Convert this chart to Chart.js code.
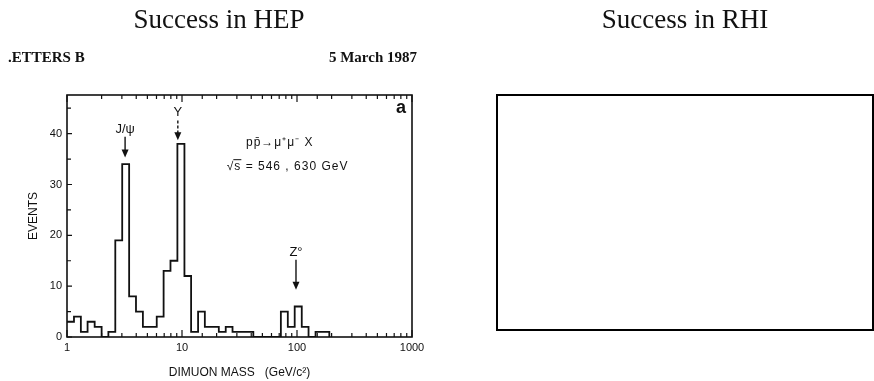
<!DOCTYPE html>
<html>
<head>
<meta charset="utf-8">
<title>Success in HEP / Success in RHI</title>
<script src="https://cdn.jsdelivr.net/npm/chart.js@4.4.1/dist/chart.umd.min.js"></script>
<style>
  html, body { margin: 0; padding: 0; background: #fff; }
  #wrap { position: relative; width: 874px; height: 381px; overflow: hidden; }
  canvas { position: absolute; top: 0; }
  #hepChart { left: 0; }
  #rhiChart { left: 440px; }
</style>
</head>
<body>
<div id="wrap">
  <canvas id="hepChart" width="440" height="381"></canvas>
  <canvas id="rhiChart" width="434" height="381"></canvas>
</div>
<script>
// Global font settings
Chart.defaults.font.family = "'Liberation Sans', Arial, sans-serif";
Chart.defaults.color = '#111';

const INK = '#111';
const SERIF = "'Liberation Serif', 'DejaVu Serif', serif";

// Dimuon mass histogram:
// lower bin edges (GeV/c^2) and events per bin
const binEdges = [1.00, 1.15, 1.32, 1.51, 1.74, 2.00, 2.29, 2.63, 3.02, 3.47,
                  3.98, 4.57, 5.25, 6.03, 6.92, 7.94, 9.12, 10.5, 12.0, 13.8,
                  15.8, 18.2, 20.9, 24.0, 27.5, 31.6, 36.3, 41.7, 47.9, 55.0,
                  63.1, 72.4, 83.2, 95.5, 110, 126, 145, 166, 191];
const binCounts = [3, 4, 1, 3, 2, 0, 1, 19, 34, 8,
                   5, 2, 2, 4, 13, 15, 38, 12, 1, 5,
                   2, 2, 1, 2, 1, 1, 1, 0, 0, 0,
                   0, 5, 2, 6, 2, 0, 1, 1];
const xTickLabels = [1, 10, 100, 1000];
const yTickLabels = [0, 10, 20, 30, 40];

// Resonance arrows: name, mass pointed at, arrow start and tip (in events)
const peakNames = ['J/ψ', 'Υ', 'Z°'];
const peakMasses = [3.2, 9.2, 98];
const arrowTops = [39.4, 42.6, 15.2];
const arrowTips = [35.3, 38.7, 9.3];

// Step points: each bin's lower edge with its count, closed at the last edge
const histPoints = binEdges.map((edge, i) => ({ x: edge, y: i < binCounts.length ? binCounts[i] : 0 }));

function drawArrow(ctx, x, yFrom, yTo, dashed) {
    ctx.beginPath();
    if (dashed) ctx.setLineDash([3, 2]);
    ctx.moveTo(x, yFrom);
    ctx.lineTo(x, yTo - 6);
    ctx.stroke();
    ctx.setLineDash([]);
    ctx.beginPath();
    ctx.moveTo(x - 3.5, yTo - 8);
    ctx.lineTo(x + 3.5, yTo - 8);
    ctx.lineTo(x, yTo);
    ctx.closePath();
    ctx.fill();
}

// Frame, inward ticks, header line and labels of the scanned page
const scanDecor = {
    id: 'scanDecor',
    afterDraw(chart) {
        const { ctx, chartArea: a, scales: { x, y } } = chart;
        ctx.save();
        ctx.strokeStyle = INK;
        ctx.fillStyle = INK;
        ctx.lineWidth = 1.6;
        ctx.strokeRect(a.left, a.top, a.right - a.left, a.bottom - a.top);

        ctx.lineWidth = 1.2;
        ctx.beginPath();
        for (const t of x.ticks) {
            const px = x.getPixelForValue(t.value);
            const len = xTickLabels.includes(t.value) ? 7 : 4;
            ctx.moveTo(px, a.bottom); ctx.lineTo(px, a.bottom - len);
            ctx.moveTo(px, a.top); ctx.lineTo(px, a.top + len);
        }
        for (const t of y.ticks) {
            if (t.value % 5 !== 0) continue;
            const py = y.getPixelForValue(t.value);
            const len = t.value % 10 === 0 ? 5 : 4;
            ctx.moveTo(a.left, py); ctx.lineTo(a.left + len, py);
        }
        ctx.stroke();

        // resonance arrows and names
        ctx.lineWidth = 1.4;
        ctx.font = '13px ' + Chart.defaults.font.family;
        ctx.textAlign = 'center';
        ctx.textBaseline = 'bottom';
        peakNames.forEach((name, i) => {
            const px = x.getPixelForValue(peakMasses[i]);
            const top = y.getPixelForValue(arrowTops[i]);
            drawArrow(ctx, px, top, y.getPixelForValue(arrowTips[i]), i === 1);
            ctx.fillText(name, px, top - 1);
        });

        // process and energy
        ctx.font = '12px ' + Chart.defaults.font.family;
        ctx.textAlign = 'left';
        ctx.textBaseline = 'middle';
        ctx.letterSpacing = '1px';
        ctx.fillText('pp\u0304\u2192\u03bc\u207a\u03bc\u207b X', x.getPixelForValue(36), y.getPixelForValue(38.2));
        const sx = x.getPixelForValue(24.5);
        const sy = y.getPixelForValue(33.5);
        ctx.fillText('\u221as = 546 , 630 GeV', sx, sy);
        const rootW = ctx.measureText('\u221a').width;
        const sW = ctx.measureText('s').width;
        ctx.lineWidth = 1;
        ctx.beginPath();
        ctx.moveTo(sx + rootW - 1, sy - 7);
        ctx.lineTo(sx + rootW + sW, sy - 7);
        ctx.stroke();
        ctx.letterSpacing = '0px';

        // panel letter
        ctx.font = 'bold 18px ' + Chart.defaults.font.family;
        ctx.textAlign = 'right';
        ctx.textBaseline = 'top';
        ctx.fillText('a', a.right - 6, a.top + 4);

        // journal header of the scanned page
        ctx.font = 'bold 15px ' + SERIF;
        ctx.textBaseline = 'alphabetic';
        ctx.textAlign = 'left';
        ctx.fillText('.ETTERS B', 8, 62);
        ctx.textAlign = 'right';
        ctx.fillText('5 March 1987', 417, 62);
        ctx.restore();
    }
};

// Plain frame round the empty panel
const boxFrame = {
    id: 'boxFrame',
    afterDraw(chart) {
        const { ctx, chartArea: a } = chart;
        ctx.save();
        ctx.strokeStyle = '#000';
        ctx.lineWidth = 2;
        ctx.strokeRect(a.left, a.top, a.right - a.left, a.bottom - a.top);
        ctx.restore();
    }
};

function panelTitle(text) {
    return {
        display: true,
        text: text,
        color: '#111',
        font: { family: SERIF, size: 27, weight: 'normal', lineHeight: 1.2 },
        padding: { top: 5, bottom: 57.6 }
    };
}

new Chart(document.getElementById('hepChart'), {
    type: 'line',
    data: {
        datasets: [{
            label: 'Events',
            data: histPoints,
            stepped: 'before',
            borderColor: INK,
            borderWidth: 1.8,
            borderJoinStyle: 'miter',
            pointRadius: 0,
            fill: false
        }]
    },
    options: {
        responsive: false,
        animation: false,
        events: [],
        layout: { padding: { left: 26, right: 28, top: 0, bottom: 0 } },
        plugins: {
            legend: { display: false },
            tooltip: { enabled: false },
            title: panelTitle('Success in HEP')
        },
        scales: {
            x: {
                type: 'logarithmic',
                min: 1,
                max: 1000,
                grid: { display: false, drawTicks: false },
                border: { display: false },
                ticks: {
                    autoSkip: false,
                    maxRotation: 0,
                    minRotation: 0,
                    padding: 4,
                    font: { size: 11 },
                    callback: (v) => xTickLabels.includes(v) ? String(v) : ''
                },
                title: {
                    display: true,
                    text: 'DIMUON MASS   (GeV/c²)',
                    font: { size: 12 },
                    padding: { top: 0, bottom: 1 }
                },
                afterFit: (scale) => { scale.height = 44; }
            },
            y: {
                min: 0,
                max: 47.6,
                grid: { display: false, drawTicks: false },
                border: { display: false },
                ticks: {
                    stepSize: 5,
                    padding: 5,
                    font: { size: 11 },
                    callback: (v) => yTickLabels.includes(v) ? String(v) : ''
                },
                title: {
                    display: true,
                    text: 'EVENTS',
                    font: { size: 12 },
                    padding: { top: 0, bottom: 0 }
                },
                afterFit: (scale) => { scale.width = 41; }
            }
        }
    },
    plugins: [scanDecor]
});

new Chart(document.getElementById('rhiChart'), {
    type: 'line',
    data: { datasets: [] },
    options: {
        responsive: false,
        animation: false,
        events: [],
        layout: { padding: { left: 57, right: 1, top: 0, bottom: 51 } },
        plugins: {
            legend: { display: false },
            tooltip: { enabled: false },
            title: panelTitle('Success in RHI')
        },
        scales: {
            x: { display: false },
            y: { display: false }
        }
    },
    plugins: [boxFrame]
});
</script>
</body>
</html>
